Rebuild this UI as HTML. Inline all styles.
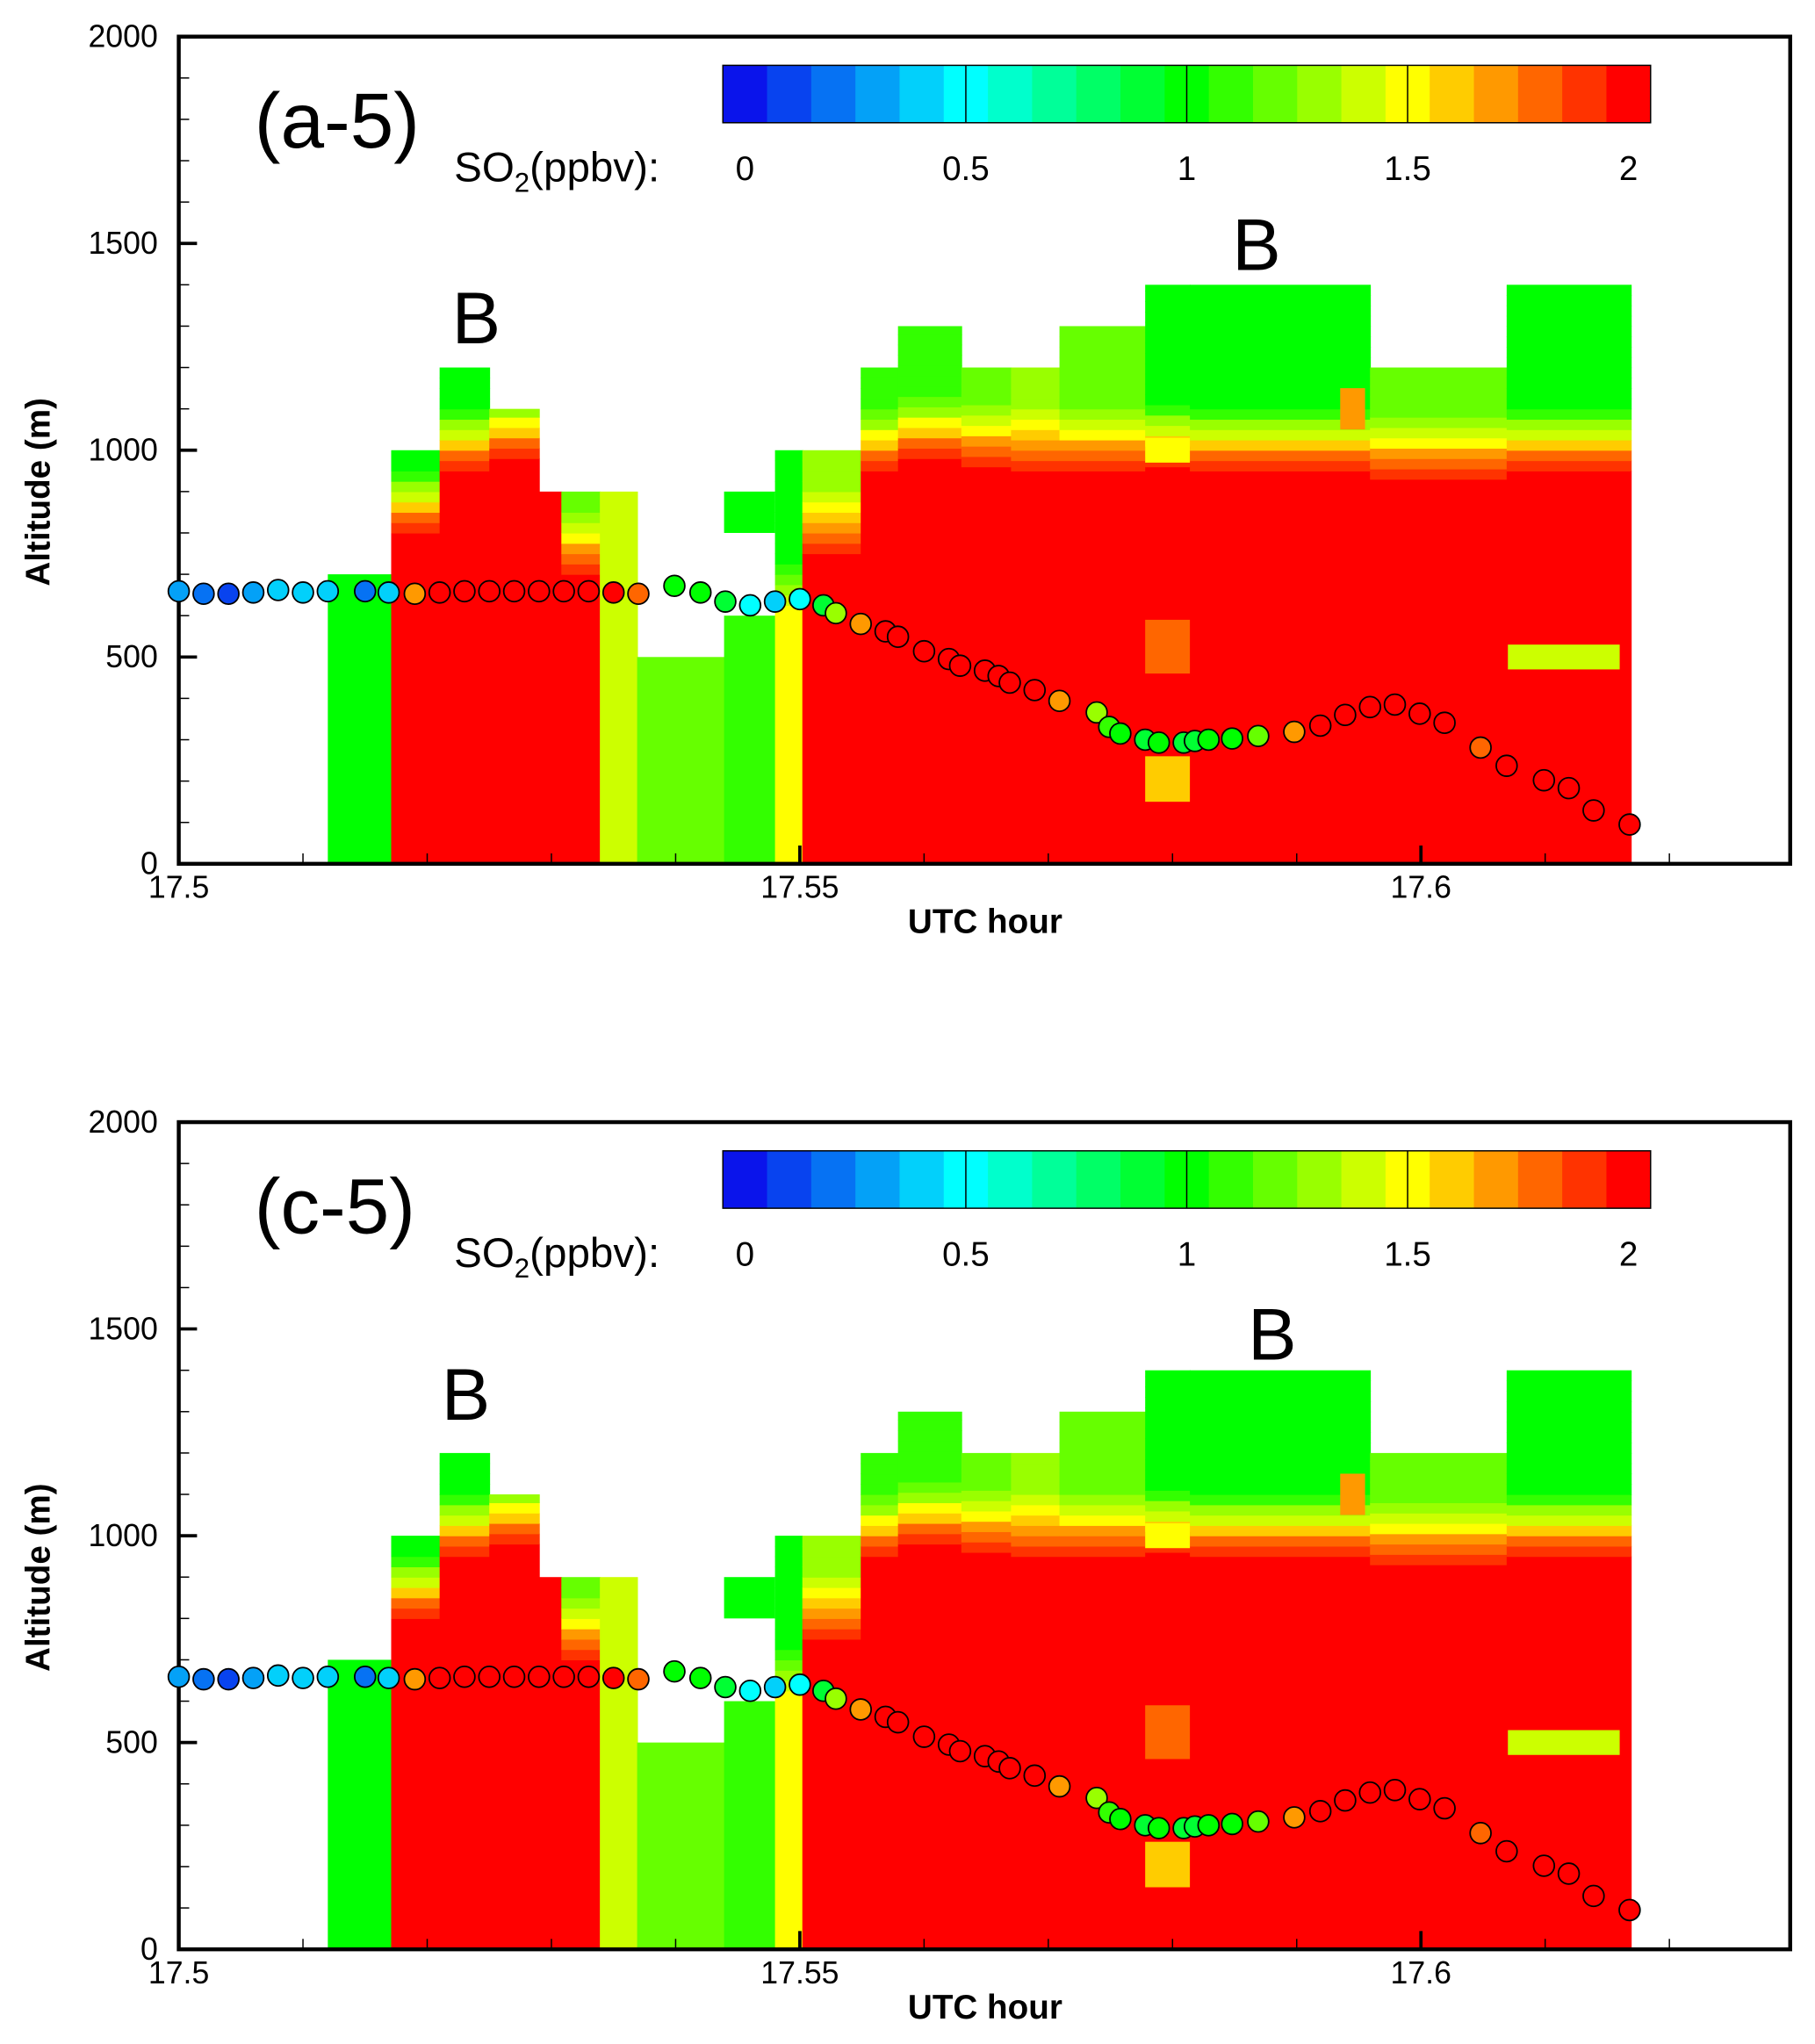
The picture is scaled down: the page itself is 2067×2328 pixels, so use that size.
<!DOCTYPE html>
<html><head><meta charset="utf-8">
<style>
html,body{margin:0;padding:0;background:#fff;}
svg{display:block;}
text{font-family:"Liberation Sans",Arial,sans-serif;}
</style></head>
<body>
<svg id="fig" width="2067" height="2328" viewBox="0 0 1391 1566.5" xmlns="http://www.w3.org/2000/svg"></svg>
<script>
// ---- data ----
const colEdges = [17.512,17.5171,17.521,17.525,17.529,17.5308,17.5339,17.5369,17.5439,17.548,17.5502,17.5549,17.5579,17.563,17.567,17.5709,17.5778,17.5814,17.5959,17.6069,17.6169];
const colTop    = [700,1000,1200,1100,900,900,900,500,600,1000,1000,1200,1300,1200,1200,1300,1400,1400,1200,1400];
const colRedTop = [700,800,950,980,900,700,900,500,600,600,750,950,980,960,950,950,960,950,930,950];
const colBase   = [1.0,2.0,2.0,2.0,2.0,2.0,1.4,1.2,1.1,1.5,2.0,2.0,2.0,2.0,2.0,2.0,2.0,2.0,2.0,2.0];
const colTopVal = [1.0,1.0,1.0,1.1,2.0,1.2,1.3,1.2,1.1,1.0,1.3,1.1,1.1,1.2,1.3,1.2,1.0,1.0,1.2,1.0];
const islandT0  = [17.5439,17.5778,17.5778,17.5778,17.607,17.5935];
const islandT1  = [17.548,17.5814,17.5814,17.5814,17.616,17.5955];
const islandA0  = [800,970,460,150,470,1050];
const islandA1  = [900,1030,590,260,530,1150];
const islandV   = [1.0,1.5,1.8,1.6,1.4,1.7];

const ptTime = [17.5,17.502,17.504,17.506,17.508,17.51,17.512,17.515,17.5169,17.519,17.521,17.523,17.525,17.527,17.529,17.531,17.533,17.535,17.537,17.5399,17.542,17.544,17.546,17.548,17.55,17.5519,17.5529,17.5549,17.5569,17.5579,17.56,17.562,17.5629,17.5649,17.566,17.5669,17.5689,17.5709,17.5739,17.5749,17.5758,17.5778,17.5789,17.5809,17.5818,17.5829,17.5848,17.5869,17.5898,17.5919,17.5939,17.5959,17.5979,17.5999,17.6019,17.6048,17.6069,17.6099,17.6119,17.6139,17.6168];
const ptAlt  = [659,653,653,656,662,656,659,659,656,653,656,659,659,659,659,659,659,656,653,672,656,634,625,634,640,625,606,580,562,549,514,495,479,467,454,438,420,394,366,331,315,300,293,293,297,300,303,309,319,334,360,379,385,363,341,281,237,202,183,129,95];
const ptVal  = [0.3,0.2,0.1,0.3,0.4,0.4,0.4,0.2,0.4,1.7,2,2,2,2,2,2,2,2,1.8,1.0,1.0,0.9,0.5,0.4,0.5,0.9,1.3,1.7,2,2,2,2,2,2,2,2,2,1.7,1.3,1.1,1.0,0.9,1.0,0.9,0.9,1.0,1.0,1.2,1.7,2,2,2,2,2,2,1.8,2,2,2,2,2];

const cbVals = [0,0.1,0.2,0.3,0.4,0.5,0.6,0.7,0.8,0.9,1.0,1.1,1.2,1.3,1.4,1.5,1.6,1.7,1.8,1.9,2.0];
const cbTickLabels = ["0","0.5","1","1.5","2"];
const cbTickVals = [0,0.5,1,1.5,2];
const yTicks = [0,500,1000,1500,2000];
const xTicks = [17.5,17.55,17.6];
const xTickLabels = ["17.5","17.55","17.6"];

// ---- helpers ----
const NS="http://www.w3.org/2000/svg";
const svg=document.getElementById('fig');
function mk(tag,attrs,parent){const e=document.createElementNS(NS,tag);for(const k in attrs)e.setAttribute(k,attrs[k]);(parent||svg).appendChild(e);return e;}
const stops=[[0,[10,20,235]],[0.5,[0,255,255]],[1,[0,255,0]],[1.5,[255,255,0]],[2,[255,0,0]]];
function color(v){v=Math.round(Math.max(0,Math.min(2,v))*10)/10;for(let i=0;i<stops.length-1;i++){const a=stops[i],b=stops[i+1];if(v<=b[0]){const f=(v-a[0])/(b[0]-a[0]);const c=a[1].map((x,j)=>Math.round(x+(b[1][j]-x)*f));return `rgb(${c[0]},${c[1]},${c[2]})`;}}return 'rgb(255,0,0)';}
const L=137,R=1372,H=634;
function X(t){return L+(t-17.5)*9520;}

function panel(top,label,bx1,by1,bx2,by2,pname){
  const g=mk('g',{});
  
  
  const Y=a=>top+H-a*0.317;
  const cg=mk('g',{},g);
  
  
  for(let i=0;i<colTop.length;i++){
    const x0=X(colEdges[i]),x1=X(colEdges[i+1]);
    const r=mk('rect',{x:x0,y:Y(colRedTop[i]),width:x1-x0+0.6,height:Y(0)-Y(colRedTop[i]),fill:color(colBase[i])},cg);
    
    
    for(let a=colRedTop[i];a<colTop[i];a+=25){
      const f=Math.min(1,(a-colRedTop[i]+12)/150);
      const v=colBase[i]+(colTopVal[i]-colBase[i])*f;
      const a2=Math.min(a+25,colTop[i]);
      const b=mk('rect',{x:x0,y:Y(a2),width:x1-x0+0.6,height:Y(a)-Y(a2)+0.4,fill:color(v)},cg);
      
      
    }
  }
  for(let i=0;i<islandV.length;i++){
    const x0=X(islandT0[i]),x1=X(islandT1[i]);
    const r=mk('rect',{x:x0,y:Y(islandA1[i]),width:x1-x0,height:Y(islandA0[i])-Y(islandA1[i]),fill:color(islandV[i])},cg);
    
    
  }
  const fr=mk('rect',{x:L,y:top,width:R-L,height:H,fill:'none',stroke:'#000','stroke-width':3},g);
  
  
  for(let a=0;a<=2000;a+=100){
    const major=a%500===0;
    mk('line',{x1:L,x2:L+(major?14:8),y1:Y(a),y2:Y(a),stroke:'#000','stroke-width':major?2.5:1},g);
  }
  yTicks.forEach(a=>{
    const t=mk('text',{x:L-16,y:Y(a)+8,'text-anchor':'end','font-size':24},g);
    t.textContent=String(a);
    
    
  });
  for(let k=0;k<=12;k++){
    const t=17.5+k*0.01;const x=X(t);if(x>R)break;
    const major=k%5===0;
    mk('line',{x1:x,x2:x,y1:top+H,y2:top+H-(major?14:8),stroke:'#000','stroke-width':major?2.5:1},g);
  }
  xTicks.forEach((t,i)=>{
    const tx=mk('text',{x:X(t),y:top+H+26,'text-anchor':'middle','font-size':24},g);
    tx.textContent=xTickLabels[i];
    
    
  });
  const xt=mk('text',{x:755,y:top+H+53,'text-anchor':'middle','font-size':26,'font-weight':'bold'},g);
  xt.textContent='UTC hour';
  
  
  const yt=mk('text',{x:0,y:0,'text-anchor':'middle','font-size':26,'font-weight':'bold',transform:`translate(38,${top+H/2+32}) rotate(-90)`},g);
  yt.textContent='Altitude (m)';
  
  
  for(let i=0;i<ptTime.length;i++){
    const c=mk('circle',{cx:X(ptTime[i]),cy:Y(ptAlt[i]),r:8,fill:color(ptVal[i]),stroke:'#000','stroke-width':1.2},g);
    
    
  }
  const cbL=554,cbW=711/21,cbT=top+22;
  cbVals.forEach((v,i)=>{
    const r=mk('rect',{x:cbL+i*cbW,y:cbT,width:cbW+0.5,height:44,fill:color(v)},g);
    
    
  });
  mk('rect',{x:cbL,y:cbT,width:711,height:44,fill:'none',stroke:'#000','stroke-width':1},g);
  cbTickVals.forEach((v,i)=>{
    const x=cbL+cbW/2+v*10*cbW;
    if(i>0&&i<4) mk('line',{x1:x,x2:x,y1:cbT,y2:cbT+44,stroke:'#000','stroke-width':1},g);
    const t=mk('text',{x:x,y:top+110,'text-anchor':'middle','font-size':26},g);
    t.textContent=cbTickLabels[i];
    
    
  });
  const so=mk('text',{x:348,y:top+111,'font-size':32},g);
  so.innerHTML='SO<tspan font-size="21" dy="8">2</tspan><tspan dy="-8">(ppbv):</tspan>';
  
  
  const pl=mk('text',{x:195,y:top+85,'font-size':60},g);
  pl.textContent=label;
  
  
  const b1=mk('text',{x:bx1,y:by1,'text-anchor':'middle','font-size':56},g);
  b1.textContent='B';
  
  
  const b2=mk('text',{x:bx2,y:by2,'text-anchor':'middle','font-size':56},g);
  b2.textContent='B';
  
  
}
panel(28,'(a-5)',365,263,963,207,'panel-a5');
panel(860,'(c-5)',357,1088,975,1042,'panel-c5');
</script>
</body></html>
